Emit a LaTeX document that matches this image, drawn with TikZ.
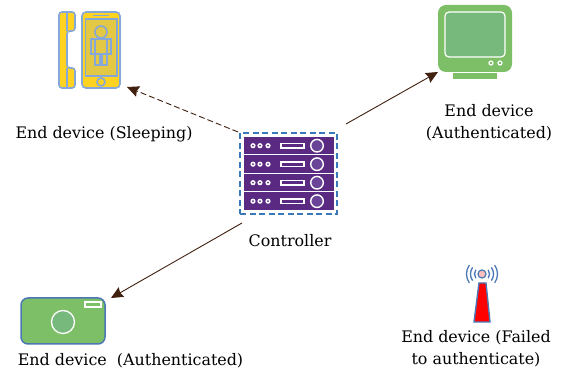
\documentclass[tikz,border=0pt]{standalone}
\usepackage{fontspec}
\setmainfont{DejaVu Serif}
\usetikzlibrary{arrows.meta}
\definecolor{phoneyellow}{HTML}{FFD320}
\definecolor{phonescreen}{HTML}{E2C844}
\definecolor{phoneblue}{HTML}{85A8D8}
\definecolor{devgreen}{HTML}{7DBF66}
\definecolor{devscreen}{HTML}{77B87C}
\definecolor{rackpurple}{HTML}{5A2A82}
\definecolor{rackcircle}{HTML}{6A4496}
\definecolor{edgeblue}{HTML}{3A78BC}
\definecolor{linkbrown}{HTML}{40200F}
\definecolor{towerblue}{HTML}{4A78B4}
\newcommand*\drawRack[1]{
    % #1: top of the row
    \fill[rackpurple] (244,#1) rectangle (334,#1+17.5);
    \foreach \dotx in {253,260,268}{
        \fill[white] (\dotx,#1+8.7) circle[radius=2.6];
        \fill[rackpurple] (\dotx,#1+8.7) circle[radius=1];
    }
    \draw[white,line width=1.4pt] (281,#1+6.5) rectangle (304,#1+11);
    \draw[white,fill=rackcircle,line width=1.4pt] (317,#1+8.7) circle[radius=6.3];
}
\tikzset{
    devlabel/.style={font=\fontsize{15.9}{22}\selectfont,align=center,text=black,inner sep=0pt},
    linkline/.style={draw=linkbrown,line width=.9pt,-{Stealth[length=12pt,width=11pt,inset=1.5pt]}},
    phonepart/.style={draw=phoneblue,line width=1.6pt,fill=phoneyellow},
    personpart/.style={draw=phoneblue,line width=1.6pt},
}
\begin{document}
\begin{tikzpicture}[x=1pt,y=-1pt]
    \useasboundingbox (0,0) rectangle (568,371);
    % phone
    \draw[phonepart,rounded corners=3pt] (59,12) -- (75,12) -- (75,31) -- (67,31) -- (67,68) -- (75,68) -- (75,88) -- (59,88) -- cycle;
    \draw[personpart] (67,12) -- (67,31) (67,68) -- (67,88);
    \draw[phonepart,rounded corners=4pt] (82,12) rectangle (120,88);
    \draw[personpart,fill=phonescreen] (85.5,19) rectangle (117,76);
    \draw[personpart] (93,15.5) -- (109,15.5);
    \draw[personpart] (101,82) circle[radius=4];
    \draw[personpart] (101,32) circle[radius=6];
    \draw[personpart] (91,39) rectangle (111,54) (95,39) -- (95,54) (107,39) -- (107,54);
    \draw[personpart] (95,54) rectangle (100,65) (102,54) rectangle (107,65);
    % monitor
    \fill[devgreen,rounded corners=8pt] (438,5) rectangle (512,72);
    \draw[white,fill=devscreen,line width=1.2pt,rounded corners=4pt] (445,12) rectangle (505,57);
    \draw[white,line width=1.2pt] (491,63) circle[radius=2] (500,63) circle[radius=2];
    \fill[devgreen] (453,73) rectangle (497,79);
    % controller
    \foreach \rowy in {137,155.5,174,192.5}{
        \drawRack{\rowy}
    }
    \node[draw=edgeblue,line width=1.4pt,dash pattern=on 6pt off 3.5pt,minimum width=97pt,minimum height=81pt,inner sep=0pt] (controller) at (288.5,173.5) {};
    % camera
    \draw[draw=towerblue,fill=devgreen,line width=1.5pt,rounded corners=7pt] (21,298) rectangle (105,344);
    \draw[white,fill=devscreen,line width=1.3pt] (63,322) circle[radius=11.5];
    \draw[white,line width=1.3pt] (85,302) rectangle (101,307);
    % tower
    \draw[draw=towerblue,fill=red,line width=1.4pt] (479,283) -- (486,283) -- (490,322) -- (474,322) -- cycle;
    \draw[draw=towerblue,fill=pink,line width=1.2pt] (482,274) circle[radius=4];
    \foreach \arcr in {7.5,11.5,15.5}{
        \draw[towerblue,line width=1.3pt] (482,274) ++(145:\arcr) arc[start angle=145,end angle=215,radius=\arcr];
        \draw[towerblue,line width=1.3pt] (482,274) ++(-35:\arcr) arc[start angle=-35,end angle=35,radius=\arcr];
    }
    % arrows
    \coordinate (phone-end) at (127,87);
    \coordinate (monitor-end) at (438,72);
    \coordinate (camera-end) at (111,298);
    \coordinate (ctrl-a) at (238,132);
    \coordinate (ctrl-b) at (346,124);
    \coordinate (ctrl-c) at (242,223);
    \draw[linkline,dash pattern=on 6pt off 3pt] (ctrl-a) -- (phone-end);
    \draw[linkline] (ctrl-b) -- (monitor-end);
    \draw[linkline] (ctrl-c) -- (camera-end);
    % labels
    \node[devlabel] (phone-label) at (104,134.5) {End device (Sleeping)};
    \node[devlabel] (monitor-label) at (489,123) {End device\\(Authenticated)};
    \node[devlabel] (controller-label) at (290,241) {Controller};
    \node[devlabel] (camera-label) at (130.5,361) {End device~~(Authenticated)};
    \node[devlabel] (tower-label) at (476,349) {End device (Failed\\to authenticate)};
\end{tikzpicture}
\end{document}
